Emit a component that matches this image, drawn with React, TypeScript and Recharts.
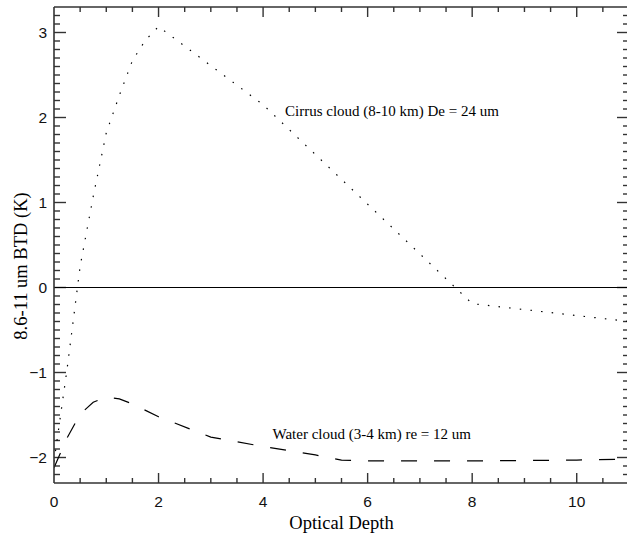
import React from 'react';
import { LineChart, Line, XAxis, YAxis, ReferenceLine, ReferenceDot } from 'recharts';

// Cirrus cloud (dotted)
const cirrusTau = [0, 0.25, 0.5, 0.75, 1, 1.25, 1.5, 1.75, 2, 3, 4, 8, 11];
const cirrusBTD = [-2.05, -0.96, 0.25, 1.07, 1.82, 2.26, 2.67, 2.91, 3.07, 2.61, 2.15, -0.19, -0.4];

// Water cloud (dashed)
const waterTau = [0, 0.25, 0.5, 0.75, 1, 1.25, 1.5, 2, 3, 4, 5, 5.5, 6, 8, 10, 11];
const waterBTD = [-2.12, -1.77, -1.49, -1.35, -1.29, -1.31, -1.37, -1.52, -1.76, -1.87, -1.97, -2.03, -2.04, -2.04, -2.03, -2.02];

const xMajorTicks = [0, 2, 4, 6, 8, 10];
const yMajorTicks = [-2, -1, 0, 1, 2, 3];
const X_MIN = 0;
const X_MAX = 11;
const Y_MIN = -2.3;
const Y_MAX = 3.3;

const cirrusLabel = 'Cirrus cloud (8-10 km) De = 24 um';
const waterLabel = 'Water cloud (3-4 km) re = 12 um';
const cirrusLabelPos = { x: 4.42, y: 2.015 };
const waterLabelPos = { x: 4.18, y: -1.78 };
const xTitle = 'Optical Depth';
const yTitle = '8.6-11 um BTD (K)';

const cirrusData = cirrusTau.map((x, i) => ({ x, y: cirrusBTD[i] }));
const waterData = waterTau.map((x, i) => ({ x, y: waterBTD[i] }));

const xTicks: number[] = [];
for (let i = 0; i <= 21; i++) xTicks.push(i / 2);
const yTicks: number[] = [];
for (let i = -22; i <= 32; i++) yTicks.push(i / 10);

const CHART_W = 632;
const CHART_H = 537;
const MARGIN = { top: 6, right: 2, bottom: 0, left: 0 };
const LEFT_AXIS_W = 54;
const RIGHT_AXIS_W = 1;
const BOTTOM_AXIS_H = 54;
const TOP_AXIS_H = 1;
const PLOT_W = CHART_W - MARGIN.left - MARGIN.right - LEFT_AXIS_W - RIGHT_AXIS_W;
const PLOT_H = CHART_H - MARGIN.top - MARGIN.bottom - TOP_AXIS_H - BOTTOM_AXIS_H;
const xPerPx = (X_MAX - X_MIN) / PLOT_W;
const yPerPx = (Y_MAX - Y_MIN) / PLOT_H;

const AXIS_COLOR = '#333';

const isMajor = (v: number, majors: number[]) => majors.some((m) => Math.abs(m - v) < 1e-6);
const fmt = (v: number) => (v < 0 ? '\u2212' + Math.abs(v) : String(v));

const TICK_FONT = 'Liberation Sans, Arial, sans-serif';
const SERIF = 'Liberation Serif, Times New Roman, serif';

const BottomLabel = (props: any) => {
  const x = Number(props.x);
  const y = Number(props.y);
  const v = props.payload.value;
  if (!isMajor(v, xMajorTicks)) return <g />;
  return (
    <text x={x} y={y + 24} textAnchor="middle" fontFamily={TICK_FONT} fontSize={15.5} fill="#111">
      {fmt(v)}
    </text>
  );
};

const LeftLabel = (props: any) => {
  const x = Number(props.x);
  const y = Number(props.y);
  const v = props.payload.value;
  if (!isMajor(v, yMajorTicks)) return <g />;
  return (
    <text x={x - 7} y={y + 5.5} textAnchor="end" fontFamily={TICK_FONT} fontSize={15.5} fill="#111">
      {fmt(v)}
    </text>
  );
};

const makeTextLabel = (text: string) => (props: any) => {
  const vb = props.viewBox || {};
  const cx = (vb.x || 0) + (vb.width || 0) / 2;
  const cy = (vb.y || 0) + (vb.height || 0) / 2;
  return (
    <text x={cx} y={cy} textAnchor="start" fontFamily={SERIF} fontSize={15} fill="#000">
      {text}
    </text>
  );
};

// Tick marks as tiny two-point series (drawn through the chart's own scales)
const tickSeries: { key: string; data: { x: number; y: number }[] }[] = [];
xTicks.forEach((v) => {
  if (v === 0) return;
  const len = (isMajor(v, xMajorTicks) ? 10 : 5) * yPerPx;
  tickSeries.push({ key: 'xb' + v, data: [{ x: v, y: Y_MIN }, { x: v, y: Y_MIN + len }] });
  tickSeries.push({ key: 'xt' + v, data: [{ x: v, y: Y_MAX }, { x: v, y: Y_MAX - len }] });
});
yTicks.forEach((v) => {
  const len = (isMajor(v, yMajorTicks) ? 12 : 6) * xPerPx;
  tickSeries.push({ key: 'yl' + v, data: [{ x: X_MIN, y: v }, { x: X_MIN + len, y: v }] });
  tickSeries.push({ key: 'yr' + v, data: [{ x: X_MAX, y: v }, { x: X_MAX - len, y: v }] });
});

export default function App() {
  return (
    <div
      style={{
        position: 'absolute',
        left: 0,
        top: 0,
        width: 627,
        height: 537,
        overflow: 'hidden',
        background: '#fff',
      }}
    >
      <LineChart width={CHART_W} height={CHART_H} margin={MARGIN}>
        <XAxis
          xAxisId="b"
          dataKey="x"
          type="number"
          domain={[X_MIN, X_MAX]}
          allowDataOverflow
          ticks={xTicks}
          interval={0}
          tickSize={0}
          tickMargin={0}
          tickLine={false}
          tick={BottomLabel}
          height={BOTTOM_AXIS_H}
          axisLine={{ stroke: AXIS_COLOR, strokeWidth: 1.6 }}
          label={{
            content: () => (
              <text x={341.5} y={529} textAnchor="middle" fontFamily={SERIF} fontSize={18.5} fill="#000">
                {xTitle}
              </text>
            ),
          }}
        />
        <XAxis
          xAxisId="t"
          orientation="top"
          dataKey="x"
          type="number"
          domain={[X_MIN, X_MAX]}
          allowDataOverflow
          tick={false}
          tickLine={false}
          height={TOP_AXIS_H}
          axisLine={{ stroke: AXIS_COLOR, strokeWidth: 1.6 }}
        />
        <YAxis
          yAxisId="l"
          type="number"
          domain={[Y_MIN, Y_MAX]}
          allowDataOverflow
          ticks={yTicks}
          interval={0}
          tickSize={0}
          tickMargin={0}
          tickLine={false}
          tick={LeftLabel}
          width={LEFT_AXIS_W}
          axisLine={{ stroke: AXIS_COLOR, strokeWidth: 1.6 }}
          label={{
            content: () => (
              <text
                x={27}
                y={266}
                transform="rotate(-90, 27, 266)"
                textAnchor="middle"
                fontFamily={SERIF}
                fontSize={18.5}
                fill="#000"
              >
                {yTitle}
              </text>
            ),
          }}
        />
        <YAxis
          yAxisId="r"
          orientation="right"
          type="number"
          domain={[Y_MIN, Y_MAX]}
          allowDataOverflow
          tick={false}
          tickLine={false}
          width={RIGHT_AXIS_W}
          axisLine={{ stroke: AXIS_COLOR, strokeWidth: 1.6 }}
        />
        {tickSeries.map((t) => (
          <Line
            key={t.key}
            xAxisId="b"
            yAxisId="l"
            data={t.data}
            dataKey="y"
            type="linear"
            stroke={AXIS_COLOR}
            strokeWidth={1.4}
            dot={false}
            activeDot={false}
            legendType="none"
            isAnimationActive={false}
          />
        ))}
        <ReferenceLine xAxisId="b" yAxisId="l" y={0} stroke="#000" strokeWidth={1.2} />
        <Line
          xAxisId="b"
          yAxisId="l"
          data={cirrusData}
          dataKey="y"
          type="linear"
          stroke="#000"
          strokeWidth={1.2}
          strokeDasharray="1.5 9.2"
          dot={false}
          activeDot={false}
          isAnimationActive={false}
        />
        <Line
          xAxisId="b"
          yAxisId="l"
          data={waterData}
          dataKey="y"
          type="linear"
          stroke="#000"
          strokeWidth={1.2}
          strokeDasharray="16 17"
          dot={false}
          activeDot={false}
          isAnimationActive={false}
        />
        <ReferenceDot
          xAxisId="b"
          yAxisId="l"
          x={cirrusLabelPos.x}
          y={cirrusLabelPos.y}
          r={0}
          fill="none"
          stroke="none"
          label={{ content: makeTextLabel(cirrusLabel) }}
        />
        <ReferenceDot
          xAxisId="b"
          yAxisId="l"
          x={waterLabelPos.x}
          y={waterLabelPos.y}
          r={0}
          fill="none"
          stroke="none"
          label={{ content: makeTextLabel(waterLabel) }}
        />
      </LineChart>
    </div>
  );
}
